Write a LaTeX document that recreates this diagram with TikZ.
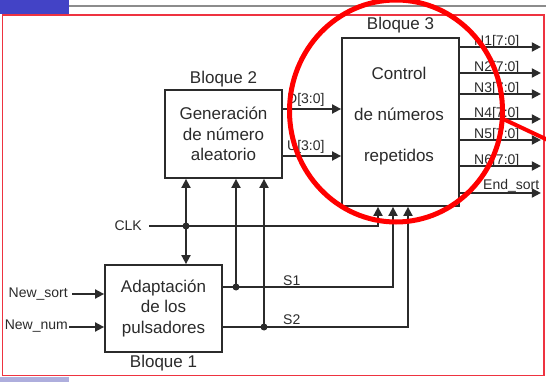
\documentclass[tikz,border=0pt]{standalone}
\usepackage{fontspec}
\setmainfont{Liberation Sans}
\usepackage{tikz}
\usetikzlibrary{arrows.meta}
\definecolor{ink}{HTML}{2B2B2B}
\definecolor{barblue}{HTML}{4343C6}
\definecolor{barlav}{HTML}{AEAEDD}
\definecolor{framered}{HTML}{EE3340}

\begin{document}
\begin{tikzpicture}[x=1pt,y=-1pt,
  bloque/.style={draw=ink,line width=1.8pt,minimum width=117pt,inner sep=0pt,
    text=ink,font=\fontsize{17}{20.5}\selectfont,align=center},
  titulo/.style={text=ink,font=\fontsize{17}{20}\selectfont,inner sep=1pt},
  sig/.style={draw=ink,line width=1.8pt},
  sigarrow/.style={sig,-{Triangle[length=9pt,width=9pt]}},
  lbl/.style={text=ink,font=\fontsize{14}{16}\selectfont,inner sep=0pt},
  dot/.style={circle,fill=ink,inner sep=0pt,minimum size=7pt}]
  \clip (0,0) rectangle (546,382);
  \fill[white] (0,0) rectangle (546,382);
  \fill[barblue] (0,0) rectangle (69,14);
  \fill[barlav] (0,377) rectangle (69,382);
  \draw[gray!90,line width=2pt] (69,6) -- (546,6);
  \draw[framered,line width=1.6pt] (2.5,15) rectangle (544,375.5);

  \node[bloque,minimum height=88pt] (b2) at (223.5,134) {Generación\\de número\\aleatorio};
  \node[bloque,minimum height=168pt] (b3) at (400.5,122) {};
  \node[bloque,minimum height=87pt] (b1) at (163.5,308.5) {Adaptación\\de los\\pulsadores};
  \node[bloque,draw=none,font=\fontsize{17}{41}\selectfont] (b3txt) at (399,116) {Control\\de números\\repetidos};
  \node[titulo,anchor=south] (t2) at ([yshift=1pt]b2.north) {Bloque 2};
  \node[titulo,anchor=south] (t3) at ([yshift=3pt]b3.north) {Bloque 3};
  \node[titulo,anchor=north] (t1) at ([yshift=-1pt]b1.south) {Bloque 1};

  \draw[sigarrow] (b2.east |- 0,109) -- (b3.west |- 0,109);
  \draw[sigarrow] (b2.east |- 0,156) -- (b3.west |- 0,156);
  \node[lbl,anchor=base west] (ld) at (287,104) {D[3:0]};
  \node[lbl,anchor=base west] (lu) at (287,151) {U[3:0]};

  \foreach \y/\n in {47/1,73/2,94/3,119/4,140/5,166/6}{
    \draw[sigarrow] (b3.east |- 0,\y) -- ++(81,0);
    \node[lbl,anchor=base west] (n\n) at (474,\y-1) {N\n[7:0]};
  }
  \draw[sigarrow] (b3.east |- 0,193) -- ++(81,0);
  \node[lbl,anchor=base west] (endsort) at (483,190) {End\_sort};

  \node[lbl,anchor=east] (clk) at (142,226) {CLK};
  \node[dot] (d1) at (186,226) {};
  \node[dot] (d2) at (236,287) {};
  \node[dot] (d3) at (264,327) {};
  \draw[sigarrow] ([xshift=7pt]clk.east) -| (b3.south -| 378,0);
  \draw[sigarrow] (d1.center) -- (b2.south -| d1);
  \draw[sigarrow] (d1.center) -- (b1.north -| d1);
  \draw[sigarrow] (b1.east |- d2) -| (b3.south -| 393,0);
  \draw[sigarrow] (d2.center) -- (b2.south -| d2);
  \draw[sigarrow] (b1.east |- d3) -| (b3.south -| 408,0);
  \draw[sigarrow] (d3.center) -- (b2.south -| d3);
  \node[lbl,anchor=base west] (s1) at (283,285) {S1};
  \node[lbl,anchor=base west] (s2) at (283,324) {S2};

  \node[lbl,anchor=east] (nsort) at (68,294) {New\_sort};
  \node[lbl,anchor=east] (nnum) at (68,326) {New\_num};
  \draw[sigarrow] ([xshift=4pt]nsort.east) -- (b1.west |- nsort);
  \draw[sigarrow] ([xshift=1pt]nnum.east |- 0,327) -- (b1.west |- 0,327);

  \draw[red,line width=5pt] (396,111) ellipse [x radius=106.5pt,y radius=111pt];
  \draw[red,line width=4pt] (501,118) -- (552,142);
\end{tikzpicture}
\end{document}
